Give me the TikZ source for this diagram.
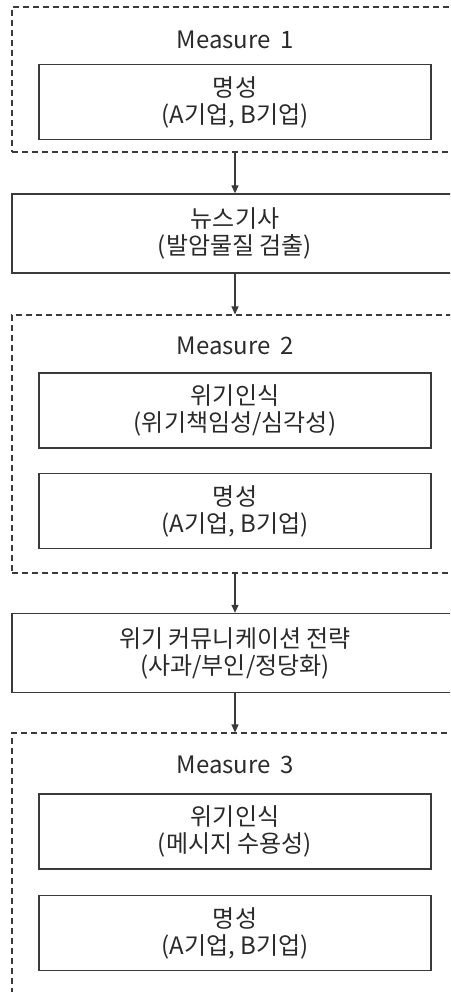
\documentclass[tikz,border=0pt]{standalone}
\usepackage{fontspec}
\setmainfont{Noto Sans CJK KR}
\usetikzlibrary{arrows.meta}
\definecolor{linec}{HTML}{3A3A3A}
\definecolor{textc}{HTML}{2A2A2A}
\tikzset{
  txt/.style={font=\fontsize{24}{27}\selectfont, text=textc, align=center},
  solidbox/.style={draw=linec, line width=1.3pt, inner sep=0pt, txt},
  innerbox/.style={solidbox, minimum width=392pt, minimum height=75pt},
  widebox/.style={solidbox, minimum width=446pt, minimum height=79pt},
  groupbox/.style={draw=linec, line width=1.1pt, dash pattern=on 6pt off 4pt, inner sep=0pt, minimum width=446pt},
  flow/.style={draw=linec, line width=1.2pt, -{Triangle[length=8pt,width=7pt]}}
}
\begin{document}
\begin{tikzpicture}[x=1pt,y=-1pt]
\useasboundingbox (0,0) rectangle (450,992);
\clip (0,0) rectangle (450,992);
% group 1
\node[groupbox, minimum height=145pt] (g1) at (235,79.5) {};
\node[txt] (m1) at (235,40) {Measure\, 1};
\node[innerbox] (r1) at (235,102) {명성\\(A기업, B기업)};
% news
\node[widebox] (news) at (235,233.5) {뉴스기사\\(발암물질 검출)};
% group 2
\node[groupbox, minimum height=258pt] (g2) at (235,444) {};
\node[txt] (m2) at (235,346) {Measure\, 2};
\node[innerbox] (c2) at (235,410.5) {위기인식\\(위기책임성/심각성)};
\node[innerbox] (r2) at (235,511) {명성\\(A기업, B기업)};
% communication
\node[widebox] (comm) at (235,653) {위기 커뮤니케이션 전략\\(사과/부인/정당화)};
% group 3
\node[groupbox, minimum height=263pt] (g3) at (235,864.5) {};
\node[txt] (m3) at (235,765) {Measure\, 3};
\node[innerbox] (c3) at (235,831.5) {위기인식\\(메시지 수용성)};
\node[innerbox] (r3) at (235,933) {명성\\(A기업, B기업)};
% arrows
\draw[flow] (g1.south) -- (news.north);
\draw[flow] (news.south) -- (g2.north);
\draw[flow] (g2.south) -- (comm.north);
\draw[flow] (comm.south) -- (g3.north);
\end{tikzpicture}
\end{document}
